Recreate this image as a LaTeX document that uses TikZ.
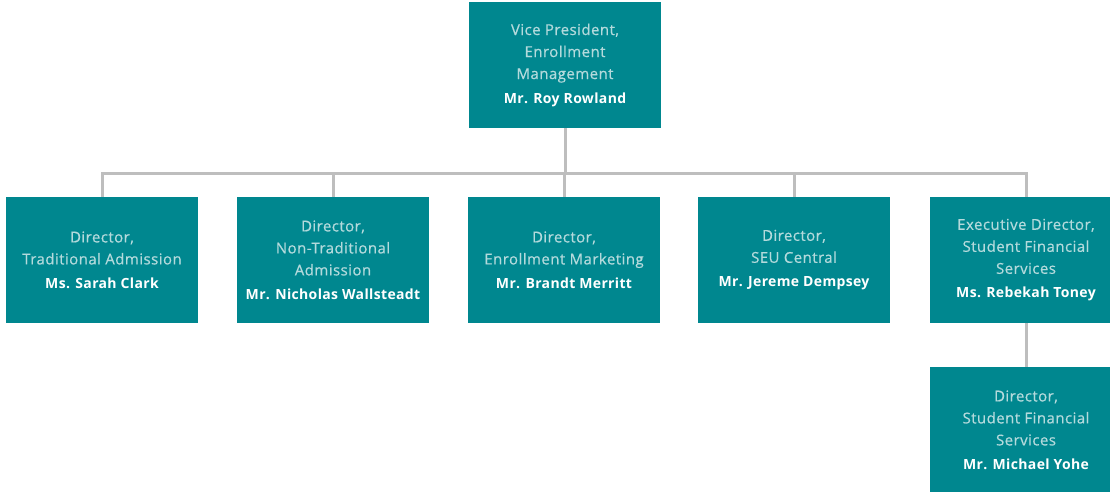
\documentclass[tikz,border=0pt]{standalone}
\usepackage{fontspec}
\setmainfont{Open Sans}[LetterSpace=2.5]
\newfontfamily\titlefont{Open Sans}[LetterSpace=3, FakeBold=0.5]
\definecolor{boxteal}{HTML}{00878F}
\definecolor{titlegrey}{HTML}{B4DADC}
\definecolor{linegrey}{HTML}{BEBEBE}
\newcommand{\who}[1]{\\[2pt]\textcolor{white}{\fontsize{14}{22}\selectfont\normalfont\bfseries #1}}
\begin{document}
\begin{tikzpicture}[x=1pt, y=-1pt,
    every node/.style={fill=boxteal, minimum width=192pt, minimum height=126pt, inner sep=0pt,
      align=center, text=titlegrey, font=\titlefont\fontsize{15}{22}\selectfont},
    link/.style={draw=linegrey, line width=3pt}]
    \useasboundingbox (0,0) rectangle (1110,492);
    \node (vp) at (565,65) {Vice President,\\Enrollment\\Management\who{Mr. Roy Rowland}};
    \node (trad) at (102,260) {Director,\\Traditional Admission\who{Ms. Sarah Clark}};
    \node (nontrad) at (333,260) {Director,\\Non-Traditional\\Admission\who{Mr. Nicholas Wallsteadt}};
    \node (mkt) at (564,260) {Director,\\Enrollment Marketing\who{Mr. Brandt Merritt}};
    \node (seu) at (794,260) {Director,\\SEU Central\who{Mr. Jereme Dempsey}};
    \node (sfs) at (1026,260) {Executive Director,\\Student Financial\\Services\who{Ms. Rebekah Toney}};
    \node (sfsdir) at (1026,430) {Director,\\Student Financial\\Services\who{Mr. Michael Yohe}};
    \coordinate (bus) at (565,173);
    \draw[link] (vp) -- (bus);
    \foreach \n in {trad, nontrad, mkt, seu, sfs}
        \draw[link] (bus) -| (\n);
    \draw[link] (sfs) -- (sfsdir);
\end{tikzpicture}
\end{document}
